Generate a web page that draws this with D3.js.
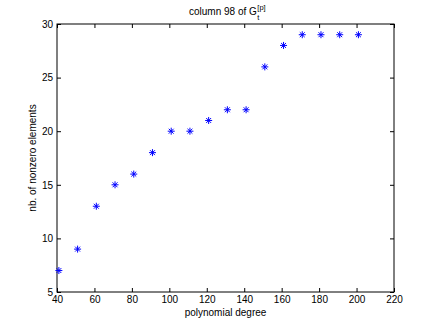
<!DOCTYPE html>
<html>
<head>
<meta charset="utf-8">
<script src="https://cdn.jsdelivr.net/npm/d3@7"></script>
<style>
  body { margin: 0; background: #fff; }
  svg { display: block; font-family: "Liberation Sans", Arial, Helvetica, sans-serif; }
  .tick text { font-size: 10px; fill: #000; }
</style>
</head>
<body>
<div id="canvas"></div>
<script>
(function () {
    var W = 436, H = 328;
    var margin = { top: 24, left: 57, right: 42, bottom: 36 };
    var width = W - margin.left - margin.right,
        height = H - margin.top - margin.bottom;

    // data
    var degrees = [41, 51, 61, 71, 81, 91, 101, 111, 121, 131, 141, 151, 161, 171, 181, 191, 201];
    var nonzeros = [7, 9, 13, 15, 16, 18, 20, 20, 21, 22, 22, 26, 28, 29, 29, 29, 29];
    var xTicks = [40, 60, 80, 100, 120, 140, 160, 180, 200, 220];
    var yTicks = [5, 10, 15, 20, 25, 30];

    var svg = d3.select('#canvas')
        .append('svg')
        .attr('width', W)
        .attr('height', H);

    var x = d3.scaleLinear().domain([40, 220]).range([0, width]);
    var y = d3.scaleLinear().domain([5, 30]).range([height, 0]);

    var g = svg.append('g')
        .attr('transform', 'translate(' + margin.left + ',' + margin.top + ')');

    // box
    g.append('rect')
        .attr('width', width)
        .attr('height', height)
        .attr('fill', 'none')
        .attr('stroke', '#000')
        .attr('stroke-width', 1);

    function styleAxis(sel) {
        sel.select('.domain').remove();
        sel.selectAll('.tick line').attr('stroke', '#000');
    }

    g.append('g')
        .attr('transform', 'translate(0,' + height + ')')
        .call(d3.axisBottom(x).tickValues(xTicks).tickSizeInner(-4).tickSizeOuter(0).tickPadding(4))
        .call(styleAxis);
    g.append('g')
        .call(d3.axisTop(x).tickValues(xTicks).tickSizeInner(-4).tickSizeOuter(0).tickFormat(''))
        .call(styleAxis);
    g.append('g')
        .call(d3.axisLeft(y).tickValues(yTicks).tickSizeInner(-4).tickSizeOuter(0).tickPadding(4))
        .call(styleAxis);
    g.append('g')
        .attr('transform', 'translate(' + width + ',0)')
        .call(d3.axisRight(y).tickValues(yTicks).tickSizeInner(-4).tickSizeOuter(0).tickFormat(''))
        .call(styleAxis);

    g.selectAll('.tick text').attr('font-size', 10);

    // '*' markers
    var r = 3.5;
    var marks = g.selectAll('g.mark')
        .data(degrees)
        .enter()
        .append('g')
        .attr('class', 'mark')
        .attr('transform', function (d, i) { return 'translate(' + x(d) + ',' + y(nonzeros[i]) + ')'; });
    marks.append('path')
        .attr('d', 'M' + (-r) + ',0H' + r + 'M0,' + (-r) + 'V' + r +
                   'M' + (-r * 0.7) + ',' + (-r * 0.7) + 'L' + (r * 0.7) + ',' + (r * 0.7) +
                   'M' + (-r * 0.7) + ',' + (r * 0.7) + 'L' + (r * 0.7) + ',' + (-r * 0.7))
        .attr('stroke', '#0000ff')
        .attr('stroke-width', 1)
        .attr('fill', 'none');

    // title: G with subscript t and superscript [p] stacked
    var tx = 189;
    var main = svg.append('text')
        .attr('x', tx)
        .attr('y', 15)
        .attr('font-size', 10)
        .text('column 98 of G');
    var mw = main.node().getComputedTextLength();
    svg.append('text')
        .attr('x', tx + mw + 0.5)
        .attr('y', 19.5)
        .attr('font-size', 7.5)
        .text('t');
    svg.append('text')
        .attr('x', tx + mw + 0.5)
        .attr('y', 10)
        .attr('font-size', 7.5)
        .text('[p]');

    // axis labels
    svg.append('text')
        .attr('x', margin.left + width / 2)
        .attr('y', 316)
        .attr('text-anchor', 'middle')
        .attr('font-size', 10)
        .text('polynomial degree');

    svg.append('text')
        .attr('transform', 'translate(36,' + (margin.top + height / 2) + ') rotate(-90)')
        .attr('text-anchor', 'middle')
        .attr('font-size', 10)
        .text('nb. of nonzero elements');
})();
</script>
</body>
</html>
